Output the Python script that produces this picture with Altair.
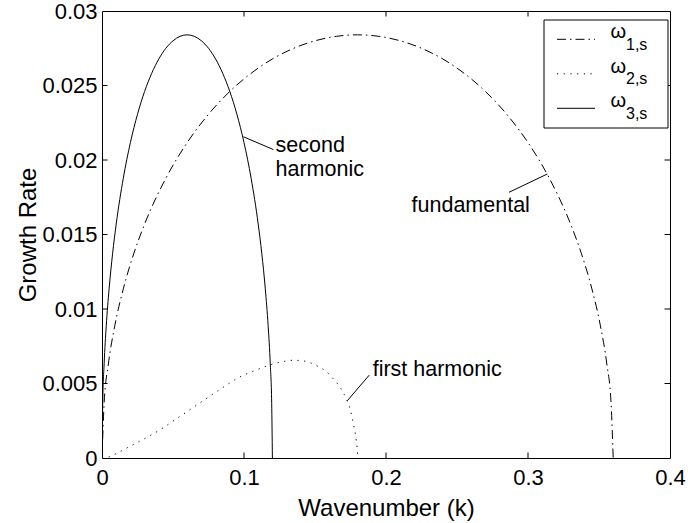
import altair as alt
import pandas as pd

# Growth-rate branches: wavenumber k and growth rate for each mode
k_fund = [0, 0.0015, 0.0045, 0.009, 0.015, 0.0225, 0.03, 0.045, 0.06, 0.075, 0.09,
          0.105, 0.12, 0.135, 0.15, 0.165, 0.18, 0.195, 0.21, 0.225, 0.24, 0.255,
          0.27, 0.285, 0.30, 0.315, 0.33, 0.3375, 0.345, 0.351, 0.3555, 0.3585, 0.36]
g_fund = [0, 0.00366, 0.00631, 0.00887, 0.01135, 0.01375, 0.0157, 0.01878, 0.02117,
          0.02307, 0.0246, 0.02582, 0.02678, 0.0275, 0.028, 0.0283, 0.0284, 0.0283,
          0.028, 0.0275, 0.02678, 0.02582, 0.0246, 0.02307, 0.02117, 0.01878, 0.0157,
          0.01375, 0.01135, 0.00887, 0.00631, 0.00366, 0]

k_first = [0, 0.0058, 0.01, 0.02, 0.03, 0.041, 0.055, 0.069, 0.083, 0.0973, 0.106,
           0.1137, 0.125, 0.1348, 0.143, 0.151, 0.158, 0.163, 0.168, 0.1723, 0.175,
           0.177, 0.179, 0.1798, 0.18]
g_first = [0, 0.0001, 0.0003, 0.0008, 0.0013, 0.0019, 0.0028, 0.0037, 0.0046, 0.00545,
           0.0058, 0.0061, 0.00642, 0.00656, 0.0065, 0.0062, 0.0058, 0.0053, 0.0047,
           0.0039, 0.0032, 0.0023, 0.0012, 0.0005, 0]

k_second = [0, 0.0005, 0.0015, 0.003, 0.005, 0.0075, 0.01, 0.015, 0.02, 0.025, 0.03,
            0.035, 0.04, 0.045, 0.05, 0.055, 0.06, 0.065, 0.07, 0.075, 0.08, 0.085,
            0.09, 0.095, 0.10, 0.105, 0.11, 0.1125, 0.115, 0.117, 0.1185, 0.1195, 0.12]
g_second = g_fund[:]  # same growth-rate profile over one third of the band

x_ticks = [0, 0.1, 0.2, 0.3, 0.4]
y_ticks = [0, 0.005, 0.01, 0.015, 0.02, 0.025, 0.03]

legend_subs = ["1,s", "2,s", "3,s"]

W, H = 568, 447
FONT = "Liberation Sans"
FS_TICK = 22
FS_TITLE = 24
FS_NOTE = 21.5
TICK = 5.5

DASHDOT = [9, 4, 1.5, 4]
DOTTED = [1.2, 5.5]

x_scale = alt.Scale(domain=[0, 0.4], nice=False, zero=False)
y_scale = alt.Scale(domain=[0, 0.03], nice=False, zero=False)

x_axis = alt.Axis(values=x_ticks, format="~g", title="Wavenumber (k)", ticks=False,
                  domain=False, grid=False, labelFont=FONT, labelFontSize=FS_TICK,
                  labelColor="black", labelPadding=9, labelFlush=False,
                  labelOverlap=False, titleFont=FONT, titleFontSize=FS_TITLE,
                  titleFontWeight="normal", titleColor="black", titleX=W / 2,
                  titleY=57, titleBaseline="alphabetic", titleAlign="center")
y_axis = alt.Axis(values=y_ticks, format="~g", title="Growth Rate", ticks=False,
                  domain=False, grid=False, labelFont=FONT, labelFontSize=FS_TICK,
                  labelColor="black", labelPadding=5, labelFlush=False,
                  labelOverlap=False, titleFont=FONT, titleFontSize=FS_TITLE,
                  titleFontWeight="normal", titleColor="black", titleX=-67,
                  titleY=H / 2, titleAngle=-90, titleBaseline="alphabetic",
                  titleAlign="center")


def X(field, **kw):
    return alt.X(field, scale=x_scale, axis=x_axis, **kw)


def Y(field, **kw):
    return alt.Y(field, scale=y_scale, axis=y_axis, **kw)


def curve(k, g, **style):
    df = pd.DataFrame({"k": k, "g": g})
    return alt.Chart(df).mark_line(color="black", strokeWidth=1,
                                   interpolate="monotone", clip=True, **style).encode(
        x=X("k:Q"), y=Y("g:Q"))


fund = curve(k_fund, g_fund, strokeDash=DASHDOT)
first = curve(k_first, g_first, strokeDash=DOTTED)
second = curve(k_second, g_second)

# inward tick marks on all four sides of the box
xt = pd.DataFrame({"v": x_ticks[1:-1]})
yt = pd.DataFrame({"v": y_ticks[1:-1]})
rule = dict(color="black", strokeWidth=1)
ticks = [
    alt.Chart(xt).mark_rule(**rule).encode(
        x=X("v:Q"), y=alt.value(H), y2=alt.value(H - TICK)),
    alt.Chart(xt).mark_rule(**rule).encode(
        x=X("v:Q"), y=alt.value(0), y2=alt.value(TICK)),
    alt.Chart(yt).mark_rule(**rule).encode(
        y=Y("v:Q"), x=alt.value(0), x2=alt.value(TICK)),
    alt.Chart(yt).mark_rule(**rule).encode(
        y=Y("v:Q"), x=alt.value(W), x2=alt.value(W - TICK)),
]

# annotations with leader lines
notes = pd.DataFrame({
    "label": ["second", "harmonic", "fundamental", "first harmonic"],
    "k": [0.1222, 0.1222, 0.2180, 0.1906],
    "g": [0.02053, 0.01892, 0.01654, 0.00549],
})
leaders = pd.DataFrame({
    "k": [0.0996, 0.2866, 0.1882],
    "g": [0.02156, 0.01783, 0.00556],
    "k2": [0.1207, 0.3136, 0.1727],
    "g2": [0.0207, 0.01906, 0.00384],
})
note_text = alt.Chart(notes).mark_text(align="left", baseline="alphabetic", font=FONT,
                                       fontSize=FS_NOTE, color="black").encode(
    x=X("k:Q"), y=Y("g:Q"), text="label:N")
note_lines = alt.Chart(leaders).mark_rule(color="black", strokeWidth=1).encode(
    x=X("k:Q"), x2="k2:Q", y=Y("g:Q"), y2="g2:Q")

# legend box
one = pd.DataFrame({"a": [0]})
legend = [alt.Chart(one).mark_rect(fill="white", stroke="black", strokeWidth=1).encode(
    x=alt.value(442), x2=alt.value(566), y=alt.value(9), y2=alt.value(117))]
styles = [dict(strokeDash=DASHDOT), dict(strokeDash=DOTTED), dict()]
for i, (sub, st) in enumerate(zip(legend_subs, styles)):
    yl = 28.3 + 34.5 * i
    legend.append(alt.Chart(one).mark_rule(color="black", strokeWidth=1, **st).encode(
        x=alt.value(455), x2=alt.value(493), y=alt.value(yl)))
    legend.append(alt.Chart(one).mark_text(text="ω", align="left", baseline="alphabetic",
                                           font=FONT, fontSize=20, color="black").encode(
        x=alt.value(508.5), y=alt.value(yl - 1)))
    legend.append(alt.Chart(one).mark_text(text=sub, align="left", baseline="alphabetic",
                                           font=FONT, fontSize=16, color="black").encode(
        x=alt.value(524), y=alt.value(yl + 10.5)))

chart = alt.layer(fund, first, second, *ticks, note_lines, note_text, *legend).properties(
    width=W, height=H,
    autosize=alt.AutoSizeParams(type="none"),
    padding={"left": 102, "top": 11, "right": 18, "bottom": 65},
    background="white",
).configure_view(stroke="black", strokeWidth=1)

chart.save("out.html", embed_options={"renderer": "svg", "actions": False})
